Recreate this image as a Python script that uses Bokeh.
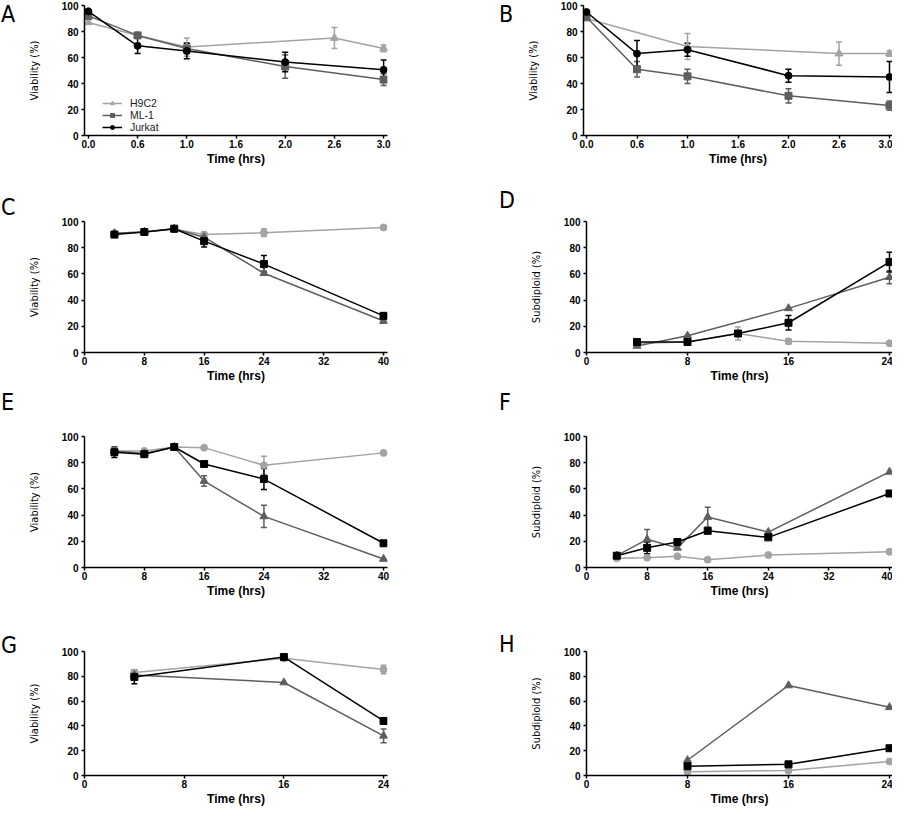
from bokeh.plotting import figure
from bokeh.models import Range1d, Whisker, ColumnDataSource, FixedTicker, TeeHead, Div
from bokeh.layouts import column, row
from bokeh.embed import file_html
from bokeh.resources import INLINE

LIGHT = "#a3a3a3"
DARK = "#5e5e5e"
BLACK = "#000000"
NARROW = "'DejaVu Sans Condensed', 'Liberation Sans Narrow', Roboto, sans-serif"

# ---------------- data ----------------
# Panel A (hrs)
a_h9c2_x = [0, 0.5, 1.0, 2.5, 3.0]
a_h9c2 = [87, 77, 68, 75, 67]
a_h9c2_err = [0, 0, 7, 8, 2.5]
a_ml1_x = [0, 0.5, 1.0, 2.0, 3.0]
a_ml1 = [92, 77, 67, 53, 43]
a_ml1_err = [2.5, 2, 4, 9, 4.5]
a_jurkat_x = [0, 0.5, 1.0, 2.0, 3.0]
a_jurkat = [95.5, 69, 65, 56.5, 50.5]
a_jurkat_err = [0, 6, 6, 7.5, 7.5]

# Panel B (hrs)
b_h9c2_x = [0, 1.0, 2.5, 3.0]
b_h9c2 = [90, 68.5, 63, 63]
b_h9c2_err = [0, 10, 9, 2]
b_ml1_x = [0, 0.5, 1.0, 2.0, 3.0]
b_ml1 = [91, 51, 45.5, 30.5, 23]
b_ml1_err = [2, 6, 5.5, 5.5, 3.5]
b_jurkat_x = [0, 0.5, 1.0, 2.0, 3.0]
b_jurkat = [95, 63, 66, 46, 45]
b_jurkat_err = [0, 10, 5, 5, 12]

# Panel C (hrs, viability)
c_x = [4, 8, 12, 16, 24, 40]
c_light = [91, 92, 94, 90, 91.5, 95.5]
c_light_err = [0, 0, 0, 2, 3, 0]
c_dark = [91, 92, 94.5, 88, 60.5, 24]
c_dark_err = [0, 0, 0, 2, 1.5, 1.5]
c_black = [90, 92, 94.5, 85, 67.5, 28]
c_black_err = [1.5, 0, 0, 4.5, 6.5, 1.5]

# Panel D (hrs, subdiploid)
d_light_x = [4, 8, 12, 16, 24]
d_light = [7, 8, 14.5, 8.5, 7]
d_light_err = [0, 0, 5, 2, 0]
d_dark_x = [4, 8, 16, 24]
d_dark = [5, 12.8, 33.7, 57.5]
d_dark_err = [0, 0, 0, 5]
d_black_x = [4, 8, 12, 16, 24]
d_black = [8, 8, 14.5, 22.7, 69]
d_black_err = [0, 0, 1.5, 5.5, 7.5]

# Panel E (hrs, viability)
e_x = [4, 8, 12, 16, 24, 40]
e_light = [89, 89, 92, 91.5, 78, 87.5]
e_light_err = [0, 0, 0, 0, 7, 0]
e_dark = [89, 87, 92, 66, 39, 6.5]
e_dark_err = [0, 0, 0, 4, 8.5, 0]
e_black = [88, 86.5, 92, 79, 67.5, 18.5]
e_black_err = [4, 0, 0, 1.5, 8, 1]

# Panel F (hrs, subdiploid)
f_x = [4, 8, 12, 16, 24, 40]
f_light = [7, 7.5, 8.5, 6, 9.5, 12]
f_light_err = [0, 0, 0, 0, 0, 0]
f_dark = [9, 21.5, 15, 38.5, 27, 73]
f_dark_err = [0, 7.5, 0, 7.5, 0, 0]
f_black = [9, 15, 19.5, 28, 23, 56.5]
f_black_err = [0, 4.5, 0, 1.5, 1.5, 1]

# Panel G (hrs, viability)
g_x = [4, 16, 24]
g_light = [83, 94.5, 85.5]
g_light_err = [0, 0, 3.5]
g_dark = [81, 75, 32]
g_dark_err = [3, 0, 5.5]
g_black = [79.5, 95.5, 44]
g_black_err = [5.5, 0, 2.5]

# Panel H (hrs, subdiploid)
h_x = [8, 16, 24]
h_light = [3, 4, 11.3]
h_dark = [12.3, 72.6, 55]
h_black = [7.4, 9, 22]

hrs_ticks = [0, 0.5, 1.0, 1.5, 2.0, 2.5, 3.0]
hrs_labels = ["0.0", "0.6", "1.0", "1.6", "2.0", "2.6", "3.0"]
t40_ticks = [0, 8, 16, 24, 32, 40]
t24_ticks = [0, 8, 16, 24]
y_ticks = [0, 20, 40, 60, 80, 100]

# ---------------- layout (height, top border, frame height, bottom border) ----------------
ROWS = [(186, 5, 130, 51), (202, 35, 131, 36), (242, 48, 131, 63), (178, 21, 128, 29)]
DIV_W = [24, 74]      # letter column widths
LETTER_DX = [1, 53]   # letter offset inside its column


def letter_div(letter, col, top):
    html = ('<div style="position:relative;left:%dpx;top:%dpx;font-family:%s;'
            'font-size:23px;line-height:28px;color:#000;white-space:nowrap;overflow:visible;">%s</div>'
            % (LETTER_DX[col], top, NARROW.replace("'", ""), letter))
    return Div(text=html, width=DIV_W[col], height=34, margin=0)


def make_panel(ylabel, xmax, xticks, xlabels, series, col, rspec,
               left_pad=False, legend=False):
    H, top, fh, bottom = rspec
    W = 446 - DIV_W[col]
    pad_px = 4 if col == 0 else 3
    if col == 0:
        bl = (78 - pad_px if left_pad else 78) - DIV_W[col]
        br = 59
    else:
        bl = (140 - pad_px if left_pad else 140) - DIV_W[col]
        br = 0
    fw = W - bl - br
    core = fw - pad_px * (2 if left_pad else 1)
    upp = xmax / core
    x0 = -pad_px * upp if left_pad else 0
    x1 = xmax + pad_px * upp

    p = figure(width=W, height=H, output_backend="svg", toolbar_location=None,
               x_range=Range1d(x0, x1), y_range=Range1d(0, 100),
               min_border_left=bl, min_border_right=br,
               min_border_top=top, min_border_bottom=bottom)
    p.xgrid.visible = False
    p.ygrid.visible = False
    p.outline_line_color = None

    for ax in (p.xaxis[0], p.yaxis[0]):
        ax.axis_line_width = 1.5
        ax.axis_line_color = "black"
        ax.major_tick_line_width = 1.5
        ax.major_tick_out = 3
        ax.major_tick_in = 0
        ax.minor_tick_out = 0
        ax.minor_tick_in = 0
        ax.major_label_text_font = "Liberation Sans"
        ax.major_label_text_font_style = "bold"
        ax.major_label_text_font_size = "10px"
        ax.major_label_text_color = "black"
    p.xaxis.major_label_standoff = 1
    p.yaxis.major_label_standoff = 3
    p.xaxis.ticker = FixedTicker(ticks=xticks)
    if xlabels is not None:
        p.xaxis.major_label_overrides = {t: l for t, l in zip(xticks, xlabels)}
    p.yaxis.ticker = FixedTicker(ticks=y_ticks)
    p.xaxis.axis_label = "Time (hrs)"
    p.xaxis.axis_label_text_font = "Liberation Sans"
    p.xaxis.axis_label_text_font_style = "bold"
    p.xaxis.axis_label_text_font_size = "12px"
    p.xaxis.axis_label_text_color = "black"
    p.xaxis.axis_label_standoff = 1
    p.yaxis.axis_label = ylabel
    p.yaxis.axis_label_text_font = NARROW
    p.yaxis.axis_label_text_font_style = "normal"
    p.yaxis.axis_label_text_font_size = "11px"
    p.yaxis.axis_label_text_color = "black"
    p.yaxis.axis_label_standoff = 18

    for s in series:
        xs, ys, errs, color, marker, label = s
        kw = {"legend_label": label} if legend else {}
        p.line(xs, ys, line_color=color, line_width=1.5, **kw)
        size = 8 if marker == "triangle" else 7
        p.scatter(xs, ys, marker=marker, size=size, fill_color=color, line_color=color, **kw)
        if errs is not None:
            ex = [x for x, e in zip(xs, errs) if e > 0]
            ey = [y for y, e in zip(ys, errs) if e > 0]
            ee = [e for e in errs if e > 0]
            if ex:
                src = ColumnDataSource(dict(x=ex, upper=[y + e for y, e in zip(ey, ee)],
                                            lower=[y - e for y, e in zip(ey, ee)]))
                w = Whisker(base="x", upper="upper", lower="lower", source=src,
                            line_color=color, line_width=1.5,
                            upper_head=TeeHead(size=6, line_color=color, line_width=1.5),
                            lower_head=TeeHead(size=6, line_color=color, line_width=1.5))
                p.add_layout(w)

    if legend:
        lg = p.legend[0]
        lg.location = (18, 2)
        lg.background_fill_alpha = 0
        lg.border_line_color = None
        lg.padding = 0
        lg.margin = 0
        lg.spacing = 0
        lg.glyph_width = 20
        lg.glyph_height = 10
        lg.label_height = 10
        lg.label_standoff = 8
        lg.label_text_font = "Liberation Sans"
        lg.label_text_font_size = "10.5px"
        lg.label_text_color = "#222222"
    return p


pA = make_panel("Viability (%)", 3.0, hrs_ticks, hrs_labels, [
    (a_h9c2_x, a_h9c2, a_h9c2_err, LIGHT, "triangle", "H9C2"),
    (a_ml1_x, a_ml1, a_ml1_err, DARK, "square", "ML-1"),
    (a_jurkat_x, a_jurkat, a_jurkat_err, BLACK, "circle", "Jurkat"),
], 0, ROWS[0], left_pad=True, legend=True)

pB = make_panel("Viability (%)", 3.0, hrs_ticks, hrs_labels, [
    (b_h9c2_x, b_h9c2, b_h9c2_err, LIGHT, "triangle", "H9C2"),
    (b_ml1_x, b_ml1, b_ml1_err, DARK, "square", "ML-1"),
    (b_jurkat_x, b_jurkat, b_jurkat_err, BLACK, "circle", "Jurkat"),
], 1, ROWS[0], left_pad=True)

pC = make_panel("Viability (%)", 40, t40_ticks, None, [
    (c_x, c_light, c_light_err, LIGHT, "circle", ""),
    (c_x, c_dark, c_dark_err, DARK, "triangle", ""),
    (c_x, c_black, c_black_err, BLACK, "square", ""),
], 0, ROWS[1])

pD = make_panel("Subdiploid (%)", 24, t24_ticks, None, [
    (d_light_x, d_light, d_light_err, LIGHT, "circle", ""),
    (d_dark_x, d_dark, d_dark_err, DARK, "triangle", ""),
    (d_black_x, d_black, d_black_err, BLACK, "square", ""),
], 1, ROWS[1])

pE = make_panel("Viability (%)", 40, t40_ticks, None, [
    (e_x, e_light, e_light_err, LIGHT, "circle", ""),
    (e_x, e_dark, e_dark_err, DARK, "triangle", ""),
    (e_x, e_black, e_black_err, BLACK, "square", ""),
], 0, ROWS[2])

pF = make_panel("Subdiploid (%)", 40, t40_ticks, None, [
    (f_x, f_light, f_light_err, LIGHT, "circle", ""),
    (f_x, f_dark, f_dark_err, DARK, "triangle", ""),
    (f_x, f_black, f_black_err, BLACK, "square", ""),
], 1, ROWS[2])

pG = make_panel("Viability (%)", 24, t24_ticks, None, [
    (g_x, g_light, g_light_err, LIGHT, "circle", ""),
    (g_x, g_dark, g_dark_err, DARK, "triangle", ""),
    (g_x, g_black, g_black_err, BLACK, "square", ""),
], 0, ROWS[3])

pH = make_panel("Subdiploid (%)", 24, t24_ticks, None, [
    (h_x, h_light, None, LIGHT, "circle", ""),
    (h_x, h_dark, None, DARK, "triangle", ""),
    (h_x, h_black, None, BLACK, "square", ""),
], 1, ROWS[3])

layout = column(
    row(letter_div("A", 0, 0), pA, letter_div("B", 1, 0), pB),
    row(letter_div("C", 0, 7), pC, letter_div("D", 1, 0), pD),
    row(letter_div("E", 0, 0), pE, letter_div("F", 1, 0), pF),
    row(letter_div("G", 0, 1), pG, letter_div("H", 1, 0), pH),
)
open("out.html", "w").write(file_html(layout, INLINE))
